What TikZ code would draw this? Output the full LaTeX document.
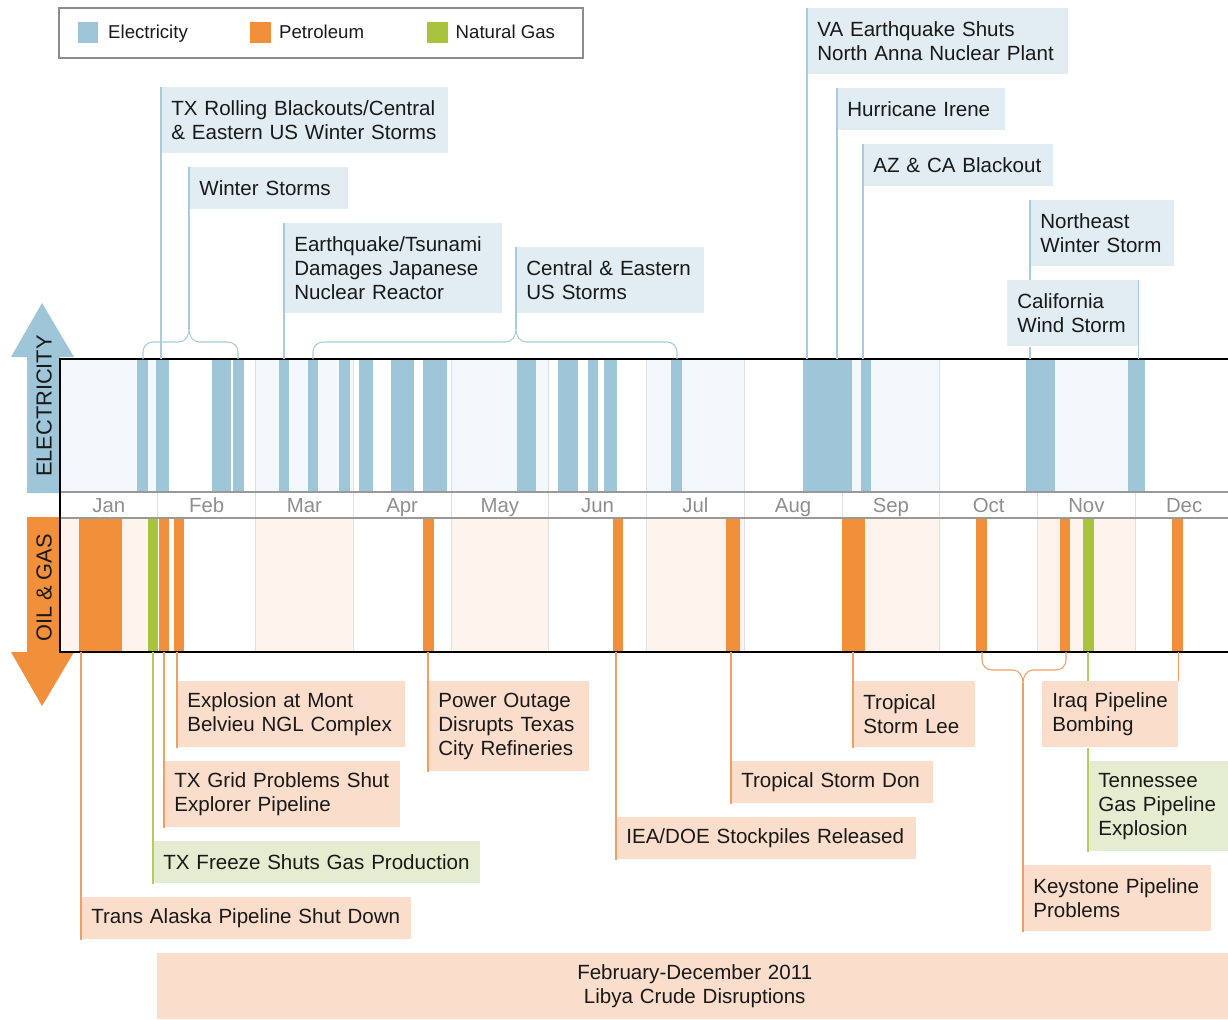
\documentclass[tikz,border=0pt]{standalone}
\usepackage{fontspec}
\setmainfont{Liberation Sans}
\usetikzlibrary{positioning}

\definecolor{elec}{RGB}{158,198,216}
\definecolor{elecshade}{RGB}{242,248,251}
\definecolor{elecbox}{RGB}{225,237,243}
\definecolor{elecline}{RGB}{168,204,221}
\definecolor{oil}{RGB}{241,143,59}
\definecolor{oilshade}{RGB}{254,244,237}
\definecolor{oilbox}{RGB}{250,221,203}
\definecolor{oilline}{RGB}{240,160,100}
\definecolor{gas}{RGB}{168,196,60}
\definecolor{gasbox}{RGB}{229,237,208}
\definecolor{gasline}{RGB}{178,204,96}
\definecolor{monthgrey}{RGB}{142,142,142}

\begin{document}
\begin{tikzpicture}[x=0.02cm, y=-0.02cm,
		lab/.style={inner xsep=0.2cm, inner ysep=1pt, align=left, anchor=north west,
			font=\fontsize{11.7}{13.6}\selectfont, text=black!90},
		ebox/.style={lab, fill=elecbox},
		obox/.style={lab, fill=oilbox},
		gbox/.style={lab, fill=gasbox},
		one/.style={minimum height=0.84cm},
		two/.style={minimum height=1.32cm},
		three/.style={minimum height=1.8cm},
		eline/.style={draw=elecline, line width=0.6pt},
		oline/.style={draw=oilline, line width=0.6pt},
		gline/.style={draw=gasline, line width=0.6pt},
		swatch/.style={minimum size=0.42cm, inner sep=0pt},
		legtext/.style={inner sep=0pt, text height=1.5ex, text depth=0.3ex, text=black!90,
			font=\fontsize{10.6}{12}\selectfont},
		monthlab/.style={anchor=base, text=monthgrey, font=\fontsize{11.6}{13}\selectfont},
		sidetag/.style={rotate=90, text=black!90, font=\fontsize{12.4}{14}\selectfont}]

	\useasboundingbox (0,0) rectangle (1228,1019);

	\draw[black!45, line width=1.1pt] (59,8) rectangle (583,58);
	\node[swatch, fill=elec] (swel) at (88,32.5) {};
	\node[legtext, right=0.18cm of swel] (txel) {Electricity};
	\node[swatch, fill=oil] (swoil) at (260,32.5) {};
	\node[legtext, right=0.16cm of swoil] (txoil) {Petroleum};
	\node[swatch, fill=gas] (swgas) at (437.5,32.5) {};
	\node[legtext, right=0.14cm of swgas] (txgas) {Natural Gas};

	\fill[elec] (27,493) -- (27,357) -- (11,357) -- (42,303) -- (74,357) -- (60,357) -- (60,493) -- cycle;
	\fill[oil] (27,517) -- (27,652) -- (11,652) -- (42,706) -- (74,652) -- (60,652) -- (60,517) -- cycle;
	\node[sidetag] (eltag) at (44,406) {ELECTRICITY};
	\node[sidetag] (oiltag) at (44,588) {OIL \& GAS};

	\foreach \i in {0,2,...,10} {
		\fill[elecshade] ({60+\i*97.75},359) rectangle ({60+(\i+1)*97.75},492);
		\fill[oilshade] ({60+\i*97.75},518) rectangle ({60+(\i+1)*97.75},652);
	}
	\foreach \i in {1,...,11}
		\draw[black!12, line width=0.5pt] ({60+\i*97.75},359) -- ({60+\i*97.75},652);

	\foreach \a/\b in {137/148,156/169,212/231,233/244,279/289,308/318,339/350,359/373,391/414,423/447,
			517/536,558/578,588/598,604/617,671/682,803/852,861/871,1026/1055,1128/1145}
		\fill[elec] (\a,359) rectangle (\b,492);
	\foreach \a/\b in {79/122,159/169,174/184,423/434,613/623,726/740,842/865,976/987,1060/1070,1172/1183}
		\fill[oil] (\a,518) rectangle (\b,652);
	\foreach \a/\b in {148/158,1083/1094}
		\fill[gas] (\a,518) rectangle (\b,652);

	\draw[black!40, line width=1.1pt] (60,492) -- (1230,492);
	\draw[black!40, line width=1.1pt] (60,518) -- (1230,518);
	\foreach \m [count=\i] in {Jan,Feb,Mar,Apr,May,Jun,Jul,Aug,Sep,Oct,Nov,Dec}
		\node[monthlab] (m\i) at ({60+(\i-0.5)*97.75},512) {\m};

	\draw[line width=1.5pt] (1230,359) -- (60,359) -- (60,652) -- (1230,652);
	\coordinate (etop) at (0,359);
	\coordinate (obot) at (0,652);

	\node[ebox, two, text width=4.82cm] (va) at (807,8) {VA Earthquake Shuts\\North Anna Nuclear Plant};
	\node[ebox, one, text width=2.96cm] (irene) at (837,88) {Hurricane Irene};
	\node[ebox, one, text width=3.4cm] (azca) at (863,144) {AZ \& CA Blackout};
	\node[ebox, two, text width=2.48cm] (nestorm) at (1030,200) {Northeast\\Winter Storm};
	\node[ebox, two, text width=2.22cm] (calwind) at (1007,280) {California\\Wind Storm};
	\node[ebox, two, text width=5.34cm] (txroll) at (161,87) {TX Rolling Blackouts/Central\\\& Eastern US Winter Storms};
	\node[ebox, one, text width=2.78cm] (wstorm) at (189,167) {Winter Storms};
	\node[ebox, three, text width=3.96cm] (quake) at (284,223) {Earthquake/Tsunami\\Damages Japanese\\Nuclear Reactor};
	\node[ebox, two, text width=3.36cm] (cestorm) at (516,247) {Central \& Eastern\\US Storms};

	\node[obox, two, text width=4.16cm] (mont) at (177,681) {Explosion at Mont\\Belvieu NGL Complex};
	\node[obox, two, text width=4.32cm] (txgrid) at (164,761) {TX Grid Problems Shut\\Explorer Pipeline};
	\node[gbox, one, text width=6.14cm] (txfreeze) at (153,841) {TX Freeze Shuts Gas Production};
	\node[obox, one, text width=6.2cm] (alaska) at (81,897) {Trans Alaska Pipeline Shut Down};
	\node[obox, three, text width=2.82cm] (outage) at (428,681) {Power Outage\\Disrupts Texas\\City Refineries};
	\node[obox, one, text width=5.6cm] (iea) at (616,817) {IEA/DOE Stockpiles Released};
	\node[obox, one, text width=3.64cm] (don) at (731,761) {Tropical Storm Don};
	\node[obox, two, text width=2.04cm] (lee) at (853,681) {Tropical\\Storm Lee};
	\node[obox, two, text width=2.32cm] (iraq) at (1042,681) {Iraq Pipeline\\Bombing};
	\node[gbox, three, text width=2.42cm] (tenn) at (1088,761) {Tennessee\\Gas Pipeline\\Explosion};
	\node[obox, two, text width=3.36cm] (keystone) at (1023,865) {Keystone Pipeline\\Problems};
	\node[obox, two, align=center, text width=21.1cm] (libya) at (157,953) {February-December 2011\\Libya Crude Disruptions};

	\coordinate (wtip) at (189,329);
	\coordinate (ctip) at (516,329);
	\coordinate (ktip) at (1023,683);

	\draw[eline] (va.north west) -- (va.north west |- etop);
	\draw[eline] (irene.north west) -- (irene.north west |- etop);
	\draw[eline] (azca.north west) -- (azca.north west |- etop);
	\draw[eline] (nestorm.north west) -- (nestorm.north west |- calwind.north);
	\draw[eline] (nestorm.north west |- calwind.south) -- (nestorm.north west |- etop);
	\draw[eline] (calwind.north east) -- (calwind.north east |- etop);
	\draw[eline] (txroll.north west) -- (txroll.north west |- etop);
	\draw[eline] (quake.north west) -- (quake.north west |- etop);
	\draw[eline] (wstorm.north west) -- (wtip);
	\draw[eline] (cestorm.north west) -- (ctip);
	\draw[eline] (143,359) -- (143,352) to[out=90,in=180] (153,342) -- (179,342)
		to[out=0,in=-90] (wtip) to[out=-90,in=180] (199,342) -- (228,342) to[out=0,in=90] (238,352) -- (238,359);
	\draw[eline] (313,359) -- (313,352) to[out=90,in=180] (323,342) -- (506,342)
		to[out=0,in=-90] (ctip) to[out=-90,in=180] (526,342) -- (667,342) to[out=0,in=90] (677,352) -- (677,359);

	\draw[oline] (alaska.south west) -- (alaska.south west |- obot);
	\draw[gline] (txfreeze.south west) -- (txfreeze.south west |- obot);
	\draw[oline] (txgrid.south west) -- (txgrid.south west |- obot);
	\draw[oline] (mont.south west) -- (mont.south west |- obot);
	\draw[oline] (outage.south west) -- (outage.south west |- obot);
	\draw[oline] (iea.south west) -- (iea.south west |- obot);
	\draw[oline] (don.south west) -- (don.south west |- obot);
	\draw[oline] (lee.south west) -- (lee.south west |- obot);
	\draw[oline] (iraq.north east) -- (iraq.north east |- obot);
	\draw[gline] (tenn.south west) -- (tenn.south west |- iraq.south);
	\draw[gline] (tenn.south west |- iraq.north) -- (tenn.south west |- obot);
	\draw[oline] (keystone.south west) -- (ktip);
	\draw[oline] (982,652) -- (982,660) to[out=-90,in=180] (992,670) -- (1013,670)
		to[out=0,in=90] (ktip) to[out=90,in=180] (1033,670) -- (1056,670) to[out=0,in=-90] (1066,660) -- (1066,652);

\end{tikzpicture}
\end{document}
